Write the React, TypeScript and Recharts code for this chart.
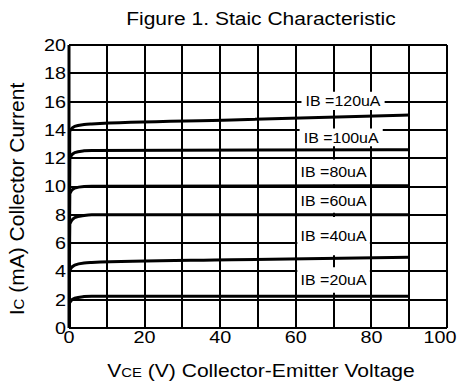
import { LineChart, Line, XAxis, YAxis, CartesianGrid, ReferenceArea } from 'recharts';

// axis ticks
const vceTicks = [0, 10, 20, 30, 40, 50, 60, 70, 80, 90, 100];
const icTicks = [0, 2, 4, 6, 8, 10, 12, 14, 16, 18, 20];

// IC (mA) vs VCE (V), one array per base current
const ib20 = [
  { vce: 0, ic: 0 }, { vce: 0.2, ic: 1.8 }, { vce: 1.5, ic: 2.1 }, { vce: 4, ic: 2.22 },
  { vce: 6, ic: 2.25 }, { vce: 90, ic: 2.25 },
];
const ib40 = [
  { vce: 0, ic: 0 }, { vce: 0.2, ic: 4.1 }, { vce: 1.5, ic: 4.45 }, { vce: 4, ic: 4.6 },
  { vce: 6, ic: 4.63 }, { vce: 43, ic: 4.82 }, { vce: 90, ic: 5.0 },
];
const ib60 = [
  { vce: 0, ic: 0 }, { vce: 0.2, ic: 7.35 }, { vce: 1.5, ic: 7.8 }, { vce: 4, ic: 7.95 },
  { vce: 6, ic: 8.0 }, { vce: 90, ic: 8.0 },
];
const ib80 = [
  { vce: 0, ic: 0 }, { vce: 0.2, ic: 9.5 }, { vce: 1.5, ic: 9.88 }, { vce: 4, ic: 10.0 },
  { vce: 6, ic: 10.02 }, { vce: 90, ic: 10.05 },
];
const ib100 = [
  { vce: 0, ic: 0 }, { vce: 0.2, ic: 12.0 }, { vce: 1.5, ic: 12.4 }, { vce: 4, ic: 12.52 },
  { vce: 6, ic: 12.55 }, { vce: 90, ic: 12.6 },
];
const ib120 = [
  { vce: 0, ic: 0 }, { vce: 0.2, ic: 13.9 }, { vce: 1.5, ic: 14.25 }, { vce: 4, ic: 14.38 },
  { vce: 6, ic: 14.42 }, { vce: 43, ic: 14.7 }, { vce: 90, ic: 15.05 },
];

const curveNames = ['IB =20uA', 'IB =40uA', 'IB =60uA', 'IB =80uA', 'IB =100uA', 'IB =120uA'];
const curveData = [ib20, ib40, ib60, ib80, ib100, ib120];

// white boxes behind the curve labels
const labelBoxes = [
  { x1: 60.4, x2: 79.6, y1: 2.5, y2: 4.3 },
  { x1: 60.4, x2: 79.6, y1: 5.15, y2: 7.85 },
  { x1: 60.4, x2: 79.6, y1: 8.15, y2: 9.9 },
  { x1: 60.4, x2: 79.6, y1: 10.15, y2: 11.9 },
  { x1: 61, x2: 83, y1: 12.85, y2: 14.1 },
  { x1: 61.5, x2: 83.5, y1: 15.4, y2: 16.7 },
];

const font = '"Liberation Sans", Arial, sans-serif';
const stretch = 1.2; // the scanned figure is a bit wider than tall

function XTick({ x, y, payload }: any) {
  const v = payload.value;
  if (v % 20 !== 0) return <g />;
  const dx = v === 100 ? -7 : 0;
  return (
    <text
      transform={`translate(${x + dx},${y}) scale(${stretch},1)`}
      textAnchor="middle"
      dy="0.78em"
      fill="#000"
      fontSize={16.5}
      fontFamily={font}
    >
      {v}
    </text>
  );
}

function YTick({ x, y, payload }: any) {
  return (
    <text
      transform={`translate(${x},${y}) scale(${stretch},1)`}
      textAnchor="end"
      dy="0.36em"
      fill="#000"
      fontSize={16.5}
      fontFamily={font}
    >
      {payload.value}
    </text>
  );
}

const boxLabel = (text: string) => ({ viewBox }: any) => {
  const cx = viewBox.x + viewBox.width / 2;
  const cy = viewBox.y + viewBox.height / 2;
  return (
    <text
      transform={`translate(${cx},${cy}) scale(1.1,1)`}
      textAnchor="middle"
      dy="0.36em"
      fill="#000"
      fontSize={14.5}
      fontFamily={font}
    >
      {text}
    </text>
  );
};

export default function App() {
  return (
    <div style={{ position: 'absolute', left: 0, top: 0, width: 459, height: 392, background: '#fff', fontFamily: font }}>
      <div
        style={{
          position: 'absolute',
          left: 0,
          top: 9,
          width: 522,
          textAlign: 'center',
          fontSize: 17.5,
          color: '#000',
          transform: `scaleX(${stretch})`,
          transformOrigin: '261px 0',
          whiteSpace: 'nowrap',
        }}
      >
        Figure 1. Staic Characteristic
      </div>
      <LineChart
        width={459}
        height={392}
        margin={{ top: 45, right: 12, left: 19, bottom: 34 }}
      >
        <CartesianGrid stroke="#000" strokeWidth={2} strokeOpacity={1} shapeRendering="crispEdges" />
        <XAxis
          dataKey="vce"
          type="number"
          domain={[0, 100]}
          ticks={vceTicks}
          allowDataOverflow
          height={30}
          tickLine={false}
          tickSize={0}
          tickMargin={2}
          axisLine={{ stroke: '#000', strokeWidth: 2 }}
          tick={XTick}
          label={{
            content: () => (
              <text
                transform="translate(261,377) scale(1.14,1)"
                textAnchor="middle"
                fill="#000"
                fontSize={18.5}
                fontFamily={font}
              >
                V<tspan fontSize={13}>CE</tspan> (V) Collector-Emitter Voltage
              </text>
            ),
          }}
        />
        <YAxis
          type="number"
          domain={[0, 20]}
          ticks={icTicks}
          width={50}
          tickLine={false}
          tickSize={0}
          tickMargin={3}
          axisLine={{ stroke: '#000', strokeWidth: 3 }}
          tick={YTick}
          label={{
            content: () => (
              <text
                transform="translate(24,199) rotate(-90)"
                textAnchor="middle"
                fill="#000"
                fontSize={21}
                fontFamily={font}
              >
                I<tspan fontSize={15}>C</tspan> (mA)  Collector Current
              </text>
            ),
          }}
        />
        {labelBoxes.map((b, i) => (
          <ReferenceArea
            key={curveNames[i]}
            x1={b.x1}
            x2={b.x2}
            y1={b.y1}
            y2={b.y2}
            fill="#fff"
            fillOpacity={1}
            stroke="none"
            label={{ content: boxLabel(curveNames[i]) }}
          />
        ))}
        {curveData.map((d, i) => (
          <Line
            key={curveNames[i]}
            data={d}
            dataKey="ic"
            type="monotone"
            stroke="#000"
            strokeWidth={3}
            dot={false}
            activeDot={false}
            isAnimationActive={false}
          />
        ))}
      </LineChart>
    </div>
  );
}
